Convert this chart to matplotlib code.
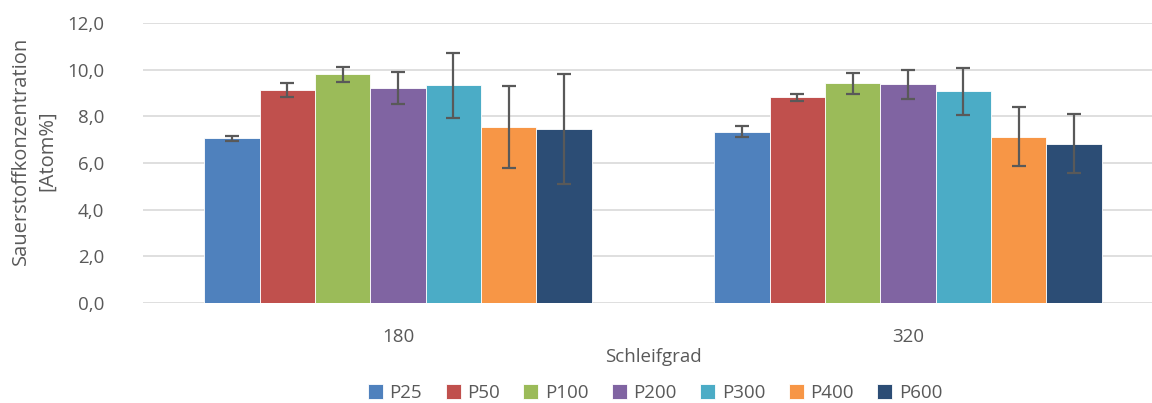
import matplotlib
matplotlib.use("Agg")
import matplotlib.pyplot as plt
import numpy as np

categories = ["180", "320"]
series = ["P25", "P50", "P100", "P200", "P300", "P400", "P600"]
values = {
    "P25":  [7.06, 7.35],
    "P50":  [9.12, 8.82],
    "P100": [9.81, 9.42],
    "P200": [9.21, 9.38],
    "P300": [9.34, 9.09],
    "P400": [7.55, 7.12],
    "P600": [7.45, 6.82],
}
errors = {
    "P25":  [0.10, 0.23],
    "P50":  [0.30, 0.15],
    "P100": [0.32, 0.45],
    "P200": [0.69, 0.63],
    "P300": [1.39, 1.01],
    "P400": [1.75, 1.27],
    "P600": [2.37, 1.27],
}
colors = ["#4F81BD", "#C0504D", "#9BBB59", "#8064A2", "#4BACC6", "#F79646", "#2C4D75"]
yticks = [0, 2, 4, 6, 8, 10, 12]

text_color = "#595959"
plt.rcParams["font.family"] = ["Open Sans", "DejaVu Sans"]
plt.rcParams["font.size"] = 13.5

fig = plt.figure(figsize=(11.52, 4.03), dpi=100)
ax = fig.add_axes([143 / 1152, (403 - 302.7) / 403, (1163 - 143) / 1152, (302.7 - 23.3) / 403])

x = np.arange(len(categories))
n = len(series)
bw = 0.76 / n
for i, (name, col) in enumerate(zip(series, colors)):
    pos = x - 0.38 + bw * (i + 0.5)
    ax.bar(pos, values[name], width=bw, color=col, edgecolor="white",
           linewidth=0.6, label=name, zorder=2)
    ax.errorbar(pos, values[name], yerr=errors[name], fmt="none",
                ecolor="#595959", elinewidth=1.6, capsize=5, capthick=1.6, zorder=3)

ax.set_xlim(-0.5, 1.5)
ax.set_ylim(0, 12)
ax.set_yticks(yticks)
ax.set_yticklabels([f"{v:.1f}".replace(".", ",") for v in yticks], color=text_color)
ax.set_xticks(x)
ax.set_xticklabels(categories, color=text_color)
ax.tick_params(axis="both", length=0)
ax.tick_params(axis="y", pad=28)
ax.tick_params(axis="x", pad=18.5)
ax.grid(axis="y", color="#D9D9D9", linewidth=1.2, zorder=0)
ax.set_axisbelow(True)
for s in ax.spines.values():
    s.set_visible(False)

ax.set_xlabel("Schleifgrad", color=text_color, labelpad=1)
fig.text(34 / 1152, (403 - 151) / 403, "Sauerstoffkonzentration\n[Atom%]",
         rotation=90, ha="center", va="center", color=text_color,
         fontsize=14.5, linespacing=1.35)

handles, labels = ax.get_legend_handles_labels()
fig.legend(handles, labels, loc="center", bbox_to_anchor=(655 / 1152, (403 - 393) / 403),
           ncol=n, frameon=False, handlelength=0.8, handleheight=0.8,
           handletextpad=0.35, columnspacing=1.25, labelcolor=text_color)

fig.savefig("out.png", dpi=100)
